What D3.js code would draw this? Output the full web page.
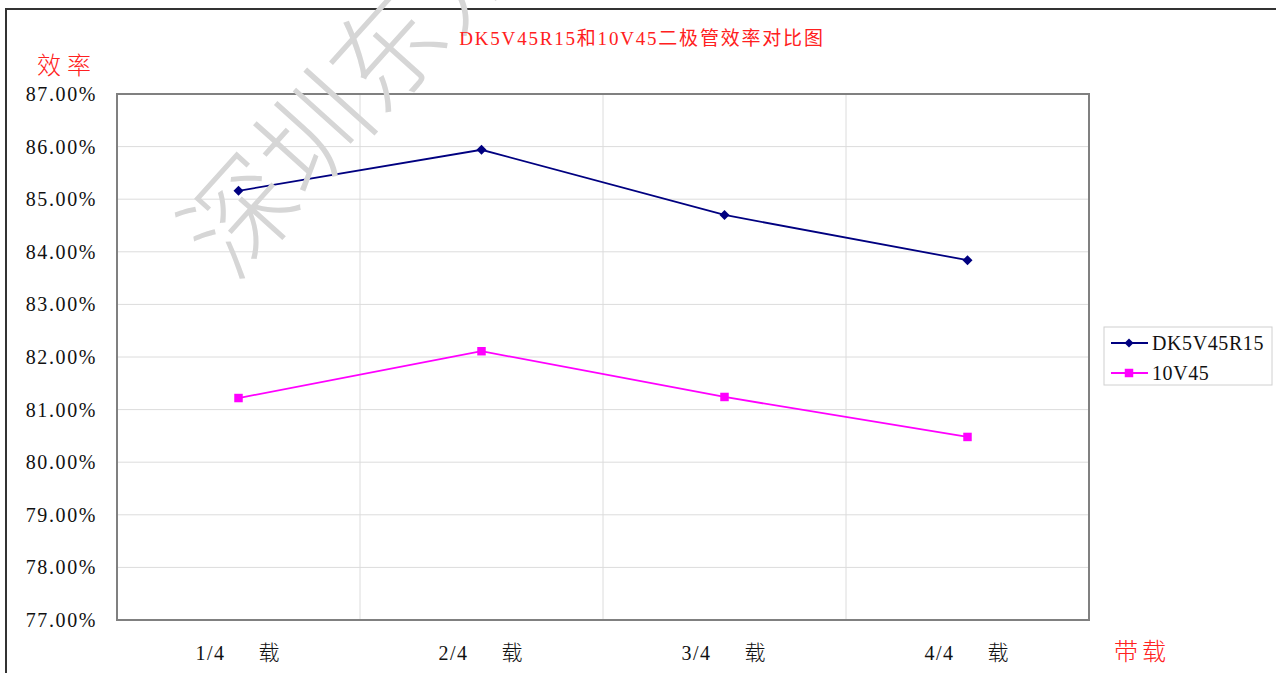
<!DOCTYPE html>
<html>
<head>
<meta charset="utf-8">
<script src="https://cdn.jsdelivr.net/npm/d3@7"></script>
<style>
  body { margin: 0; background: #fff; }
  svg text { font-family: "Liberation Serif", "Noto Sans CJK SC", serif; }
</style>
</head>
<body>
<div id="chart"></div>
<script>
  // data
  const categories = ["1/4", "2/4", "3/4", "4/4"];
  const seriesNames = ["DK5V45R15", "10V45"];
  const dk5v45r15 = [85.16, 85.94, 84.70, 83.84];
  const v10v45 = [81.22, 82.11, 81.24, 80.48];
  const yTicks = [77, 78, 79, 80, 81, 82, 83, 84, 85, 86, 87];
  const colors = ["#000080", "#ff00ff"];

  const width = 1276, height = 673;
  const margin = { top: 94, right: 187, bottom: 53, left: 117 };
  const iwidth = width - margin.left - margin.right,
        iheight = height - margin.top - margin.bottom;

  const svg = d3.select("#chart").append("svg")
    .attr("width", width).attr("height", height);

  // outer frame (left + top)
  svg.append("path")
    .attr("d", `M6,${height} L6,9 L${width},9`)
    .attr("fill", "none").attr("stroke", "#333").attr("stroke-width", 2);

  const g = svg.append("g")
    .attr("transform", `translate(${margin.left},${margin.top})`);

  const x = d3.scaleBand().domain(categories).range([0, iwidth]);
  const y = d3.scaleLinear().domain([77, 87]).range([iheight, 0]);

  // grid
  g.selectAll("line.hgrid").data(yTicks).enter().append("line")
    .attr("x1", 0).attr("x2", iwidth)
    .attr("y1", d => y(d)).attr("y2", d => y(d))
    .attr("stroke", "#dcdcdc").attr("stroke-width", 1);

  g.selectAll("line.vgrid").data(categories.slice(1)).enter().append("line")
    .attr("x1", d => x(d)).attr("x2", d => x(d))
    .attr("y1", 0).attr("y2", iheight)
    .attr("stroke", "#dcdcdc").attr("stroke-width", 1);

  // watermark
  svg.append("text")
    .attr("transform", "translate(233,283) rotate(-48)")
    .attr("font-size", 110)
    .style("font-family", "'Noto Sans CJK SC', serif")
    .attr("font-weight", 300)
    .attr("fill", "#d6d6d6")
    .text("深圳东方");

  // plot border
  g.append("rect")
    .attr("width", iwidth).attr("height", iheight)
    .attr("fill", "none").attr("stroke", "#808080").attr("stroke-width", 2);

  // y axis labels
  g.selectAll("text.ytick").data(yTicks).enter().append("text")
    .attr("x", -20).attr("y", d => y(d))
    .attr("dy", "0.35em")
    .attr("text-anchor", "end")
    .attr("font-size", 20)
    .attr("letter-spacing", 1.6)
    .attr("fill", "#111")
    .text(d => d.toFixed(2) + "%");

  // x axis labels
  const xl = g.selectAll("g.xtick").data(categories).enter().append("g")
    .attr("transform", d => `translate(${x(d) + x.bandwidth() / 2},${iheight + 40})`);
  xl.append("text")
    .attr("x", -43).attr("font-size", 20).attr("letter-spacing", 1.5)
    .attr("fill", "#111").text(d => d);
  xl.append("text")
    .attr("x", 20).attr("font-size", 21)
    .style("font-family", "'Noto Sans CJK SC'")
    .attr("font-weight", 300)
    .attr("fill", "#111").text("载");

  // series
  const line = d3.line()
    .x((d, i) => x(categories[i]) + x.bandwidth() / 2)
    .y(d => y(d));

  const diamond = d3.symbol().type(d3.symbolSquare).size(50)();
  const square = d3.symbol().type(d3.symbolSquare).size(72)();

  [dk5v45r15, v10v45].forEach((vals, s) => {
    g.append("path").datum(vals)
      .attr("d", line)
      .attr("fill", "none")
      .attr("stroke", colors[s]).attr("stroke-width", 1.8);
    g.selectAll(null).data(vals).enter().append("path")
      .attr("transform", (d, i) =>
        `translate(${x(categories[i]) + x.bandwidth() / 2},${y(d)})` + (s === 0 ? " rotate(45)" : ""))
      .attr("d", s === 0 ? diamond : square)
      .attr("fill", colors[s]);
  });

  // title and axis titles
  svg.append("text")
    .attr("x", 642).attr("y", 45)
    .attr("text-anchor", "middle")
    .attr("font-size", 19).attr("letter-spacing", 1.8)
    .attr("fill", "#ff2020")
    .text("DK5V45R15和10V45二极管效率对比图");

  svg.append("text")
    .attr("x", 37).attr("y", 74)
    .attr("font-size", 24).attr("letter-spacing", 6)
    .style("font-family", "'Noto Sans CJK SC'")
    .attr("font-weight", 300)
    .attr("fill", "#ff2020").text("效率");

  svg.append("text")
    .attr("x", 1114).attr("y", 660)
    .attr("font-size", 24).attr("letter-spacing", 4)
    .style("font-family", "'Noto Sans CJK SC'")
    .attr("font-weight", 300)
    .attr("fill", "#ff2020").text("带载");

  // legend
  const lg = svg.append("g").attr("transform", "translate(1104,327)");
  lg.append("rect")
    .attr("width", 168).attr("height", 58)
    .attr("fill", "#fff").attr("stroke", "#d0d0d0").attr("stroke-width", 1);
  const items = lg.selectAll("g.item").data(seriesNames).enter().append("g")
    .attr("transform", (d, i) => `translate(0,${16 + i * 30})`);
  items.append("line")
    .attr("x1", 7).attr("x2", 44)
    .attr("stroke", (d, i) => colors[i]).attr("stroke-width", 1.8);
  items.append("path")
    .attr("transform", (d, i) => i === 0 ? "translate(25,0) rotate(45)" : "translate(25,0)")
    .attr("d", (d, i) => i === 0 ? d3.symbol().type(d3.symbolSquare).size(40)() : square)
    .attr("fill", (d, i) => colors[i]);
  items.append("text")
    .attr("x", 48).attr("dy", "0.35em")
    .attr("font-size", 20).attr("letter-spacing", 0.6)
    .attr("fill", "#111")
    .text(d => d);
</script>
</body>
</html>
